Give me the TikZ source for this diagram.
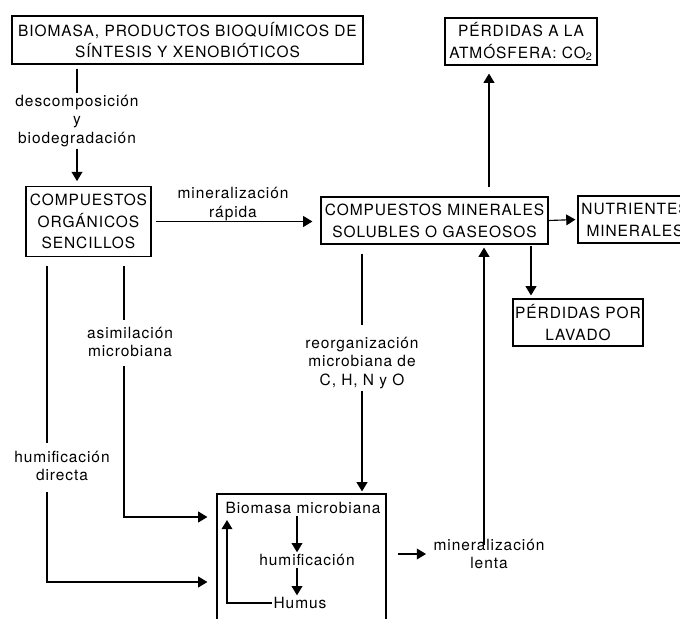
\documentclass[tikz,border=0pt]{standalone}
\usepackage{fontspec}
\setmainfont{TeX Gyre Heros}[LetterSpace=6]
\usetikzlibrary{arrows.meta}

\begin{document}
\begin{tikzpicture}[x=0.025cm,y=-0.025cm,line width=0.8pt,
	box/.style={draw,align=center,inner sep=0pt,font=\fontsize{11}{15.5}\selectfont},
	lbl/.style={align=center,inner sep=1pt,font=\fontsize{11}{13}\selectfont},
	arr/.style={-{Triangle[length=2.3mm,width=2.7mm]}}]
	\useasboundingbox (0,0) rectangle (680,619);
	\clip (0,0) rectangle (680,619);
	\node[box,minimum width=8.775cm,minimum height=1.2cm] (biomasa) at (187.5,40) {BIOMASA, PRODUCTOS BIOQUÍMICOS DE\\SÍNTESIS Y XENOBIÓTICOS};
	\node[box,minimum width=3.125cm,minimum height=1.75cm] (organicos) at (88.5,221.5) {COMPUESTOS\\ORGÁNICOS\\SENCILLOS};
	\node[box,minimum width=5.675cm,minimum height=1.175cm] (minerales) at (434.5,220.5) {COMPUESTOS MINERALES\\SOLUBLES O GASEOSOS};
	\node[box,minimum width=2.85cm,minimum height=1.175cm] (nutrientes) at (635,219.5) {NUTRIENTES\\MINERALES};
	\node[box,minimum width=3.25cm,minimum height=1.175cm] (lavado) at (578,322.5) {PÉRDIDAS POR\\LAVADO};
	\node[box,minimum width=3.8cm,minimum height=1.175cm] (atmosfera) at (521,41.5) {PÉRDIDAS A LA\\ATMÓSFERA: CO\textsubscript{2}};
	\node[box,minimum width=4.225cm,minimum height=3.65cm] (microbox) at (301.5,567) {};

	\node[lbl] (descomp) at (77,121) {descomposición\\y\\biodegradación};
	\node[lbl] (rapida) at (233,204) {mineralización\\rápida};
	\node[lbl] (asimil) at (130,342) {asimilación\\microbiana};
	\node[lbl] (directa) at (62,466) {humificación\\directa};
	\node[lbl] (reorg) at (362,363) {reorganización\\microbiana de\\C, H, N y O};
	\node[lbl] (lenta) at (489,554) {mineralización\\lenta};
	\node[lbl] (biomic) at (303,508) {Biomasa microbiana};
	\node[lbl] (humif) at (307,560) {humificación};
	\node[lbl] (humus) at (300,603) {Humus};

	\coordinate (xlav) at (531,0);
	\coordinate (xatm) at (489,0);
	\coordinate (xlenta) at (484,0);
	\coordinate (xasim) at (124,0);
	\coordinate (xdir) at (47,0);
	\coordinate (xin) at (297,0);
	\coordinate (yasim) at (0,517);
	\coordinate (ydir) at (0,582);
	\coordinate (loop) at (227,520);

	\draw[shorten <=1mm] (biomasa.south -| descomp) -- (descomp.north);
	\draw[arr,shorten >=1.2mm] (descomp.south) -- (descomp.south |- organicos.north);
	\draw[arr,shorten <=1mm,shorten >=2mm] (organicos.east) -- (organicos.east -| minerales.west);
	\draw[arr,shorten >=0.5mm] (minerales.east) -- (nutrientes.west);
	\draw[arr,shorten <=0.3mm,shorten >=0.75mm] (minerales.south -| xlav) -- (lavado.north -| xlav);
	\draw[arr,shorten <=2.25mm,shorten >=2mm] (minerales.north -| xatm) -- (atmosfera.south -| xatm);
	\draw[shorten <=2.25mm,shorten >=2.5mm] (minerales.south -| reorg) -- (reorg.north);
	\draw[arr,shorten >=0.5mm] (reorg.south) -- (reorg.south |- microbox.north);
	\draw[arr,shorten <=2.75mm,shorten >=1.4mm] (microbox.east |- lenta) -- (lenta.west);
	\draw[arr,shorten <=-2mm,shorten >=0.75mm] (lenta.north -| xlenta) -- (minerales.south -| xlenta);
	\draw[shorten <=2.25mm,shorten >=1.25mm] (organicos.south -| xasim) -- (asimil.north -| xasim);
	\draw[arr,shorten <=1.9mm,shorten >=2.25mm] (asimil.south -| xasim) |- (microbox.west |- yasim);
	\draw[shorten <=2.25mm,shorten >=1.6mm] (organicos.south -| xdir) -- (directa.north -| xdir);
	\draw[arr,shorten <=2.4mm,shorten >=2.25mm] (directa.south -| xdir) |- (microbox.west |- ydir);
	\draw[arr] (biomic.south -| xin) -- (humif.north -| xin);
	\draw[arr] (humif.south -| xin) -- (humus.north -| xin);
	\draw[arr] (humus.west) -| (loop);
\end{tikzpicture}
\end{document}
